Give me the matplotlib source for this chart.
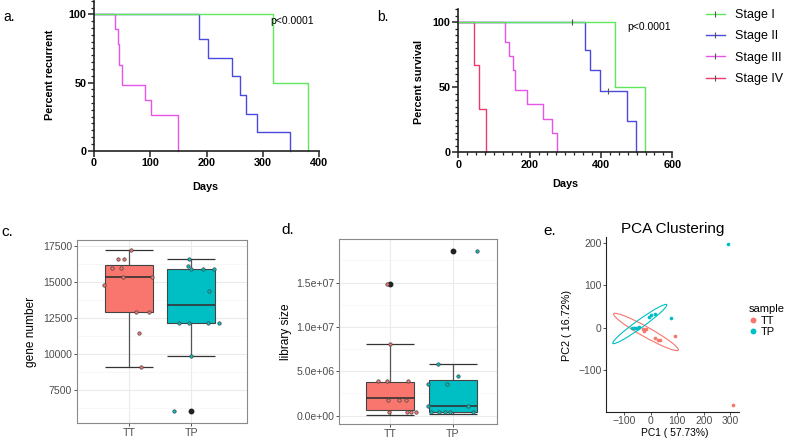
import numpy as np
import matplotlib
matplotlib.use("Agg")
import matplotlib.pyplot as plt
from matplotlib.lines import Line2D
from matplotlib.patches import Ellipse
from matplotlib.ticker import MultipleLocator, FixedLocator
import matplotlib.transforms as mtransforms

plt.rcParams['font.family'] = ['Liberation Sans', 'DejaVu Sans']

W, H = 785, 440

# ---- a. recurrence (days, percent recurrent)
rec_t_s1 = [0, 318, 380]
rec_p_s1 = [100, 50, 0]
rec_t_s2 = [0, 186, 203, 245, 260, 270, 290, 348]
rec_p_s2 = [100, 82, 68, 54.5, 41, 27, 13.6, 0]
rec_t_s3 = [0, 38, 42, 44, 50, 90, 101, 150]
rec_p_s3 = [100, 89, 78, 63, 48, 37, 26, 0]

# ---- b. survival (days, percent survival)
surv_t_s1 = [0, 440, 524]
surv_p_s1 = [100, 50, 0]
surv_t_s2 = [0, 355, 370, 396, 474, 497]
surv_p_s2 = [100, 79, 63, 47.5, 24, 0]
surv_t_s3 = [0, 131, 142, 152, 160, 192, 237, 262, 276]
surv_p_s3 = [100, 85, 74, 63, 48, 37, 26, 15, 0]
surv_t_s4 = [0, 44, 58, 78]
surv_p_s4 = [100, 67, 33, 0]
cens_t_s1, cens_p_s1 = [318], [100]
cens_t_s2, cens_p_s2 = [420], [47.5]

stage_labels = ['Stage I', 'Stage II', 'Stage III', 'Stage IV']
stage_colors = ['#5ee85a', '#4a4ae0', '#e755e7', '#ec3a6c']

# ---- c. gene number
gene_tt = [17222, 16620, 16620, 15949, 15949, 15324, 15324, 14792, 12917, 12917, 11435, 9097]
gene_tt_jit = [0.03, -0.18, -0.08, -0.27, -0.13, -0.09, 0.38, -0.40, 0.11, 0.33, 0.17, 0.19]
gene_tp = [16620, 16111, 15880, 15880, 15880, 14375, 12176, 12176, 12176, 12176, 9884, 6042]
gene_tp_jit = [-0.03, -0.05, 0.0, 0.19, 0.36, 0.29, -0.19, -0.04, 0.27, 0.44, -0.01, -0.28]
gene_box_tt = dict(whislo=9097, q1=12940, med=15324, q3=16204, whishi=17222, fliers=[])
gene_box_tp = dict(whislo=9884, q1=12130, med=13380, q3=15880, whishi=16620, fliers=[6042])

# ---- d. library size
lib_tt = [14.89e6, 8.05e6, 3.91e6, 3.91e6, 3.91e6, 1.77e6, 1.77e6, 1.77e6, 0.38e6, 0.38e6, 0.38e6, 0.38e6]
lib_tt_jit = [-0.05, 0.0, -0.20, -0.05, 0.29, -0.03, 0.15, 0.26, -0.02, 0.27, 0.33, 0.41]
lib_tp = [18.6e6, 5.86e6, 4.47e6, 3.61e6, 3.61e6, 1.13e6, 1.13e6, 0.38e6, 0.38e6, 0.38e6, 0.38e6, 0.38e6]
lib_tp_jit = [0.39, -0.23, 0.08, -0.09, -0.39, -0.39, 0.24, -0.35, -0.22, -0.13, -0.04, 0.33]
lib_box_tt = dict(whislo=0.1e6, q1=0.64e6, med=1.95e6, q3=3.83e6, whishi=8.05e6, fliers=[14.89e6])
lib_box_tp = dict(whislo=0.19e6, q1=0.38e6, med=1.09e6, q3=3.98e6, whishi=5.86e6, fliers=[18.6e6])

# ---- e. PCA
pca_tt_x = [90, 16, 27, 34, -31, -25, -19, 312]
pca_tt_y = [-20, -25, -28, -28, -4, -7, -4, -182]
pca_tp_x = [294, 75, 15, 0, -6, -72, -65, -57, -50, -45]
pca_tp_y = [197, 23, 33, 29, 26, -1, -1, 0, 0.5, 1]
ell_tt_center, ell_tt_major, ell_tt_minor = (-18.5, -10), (122.5, -42.7), (9.1, 10.3)
ell_tp_center, ell_tp_major, ell_tp_minor = (-42, 8.7), (102, 45.6), (-8.8, 7.6)

col_tt = '#F8766D'
col_tp = '#00BFC4'


def box(l, t, r, b):
    return [l / W, 1 - b / H, (r - l) / W, (b - t) / H]


fig = plt.figure(figsize=(W / 100, H / 100), dpi=100)

# ================= a / b : Kaplan-Meier style
def km_axes(ax, xmax, xmaj, xmin_loc):
    for s in ['top', 'right']:
        ax.spines[s].set_visible(False)
    for s in ['left', 'bottom']:
        ax.spines[s].set_linewidth(1.2)
        ax.spines[s].set_color('#222222')
    ax.set_xlim(0, xmax)
    ax.set_ylim(0, 110)
    ax.xaxis.set_major_locator(MultipleLocator(xmaj))
    if xmin_loc:
        ax.xaxis.set_minor_locator(MultipleLocator(xmin_loc))
    ax.set_yticks([0, 50, 100])
    ax.yaxis.set_minor_locator(MultipleLocator(5))
    ax.tick_params(which='major', length=4, width=1.1, labelsize=7.8, pad=1.5, color='#222222')
    ax.tick_params(which='minor', length=2, width=0.9, color='#222222')
    for lab in ax.get_xticklabels() + ax.get_yticklabels():
        lab.set_fontweight('bold')

ax_a = fig.add_axes(box(94, 0.7, 319, 150.7))
ax_a.step(rec_t_s3, rec_p_s3, where='post', color=stage_colors[2], lw=1.0, clip_on=False)
ax_a.step(rec_t_s2, rec_p_s2, where='post', color=stage_colors[1], lw=1.0, clip_on=False)
ax_a.step(rec_t_s1, rec_p_s1, where='post', color=stage_colors[0], lw=1.0, clip_on=False)
km_axes(ax_a, 400, 100, None)
ax_a.text(314, 95, 'p<0.0001', fontsize=7.5, va='center')
ax_a.set_ylabel('Percent recurrent', fontsize=7.8, fontweight='bold')
ax_a.yaxis.set_label_coords(-0.173, 0.505)
ax_a.set_xlabel('Days', fontsize=7.8, fontweight='bold')
ax_a.xaxis.set_label_coords(0.493, -0.21)

ax_b = fig.add_axes(box(458.3, 9.3, 672.3, 152.3))
ax_b.step(surv_t_s4, surv_p_s4, where='post', color=stage_colors[3], lw=1.0, clip_on=False)
ax_b.step(surv_t_s3, surv_p_s3, where='post', color=stage_colors[2], lw=1.0, clip_on=False)
ax_b.step(surv_t_s2, surv_p_s2, where='post', color=stage_colors[1], lw=1.0, clip_on=False)
ax_b.step(surv_t_s1, surv_p_s1, where='post', color=stage_colors[0], lw=1.0, clip_on=False)
ax_b.plot(cens_t_s1, cens_p_s1, ls='', marker='|', ms=4, mew=0.8, color='#555555')
ax_b.plot(cens_t_s2, cens_p_s2, ls='', marker='|', ms=4, mew=0.8, color='#555555')
km_axes(ax_b, 600, 200, 25)
ax_b.text(474, 96.5, 'p<0.0001', fontsize=7.5, va='center')
ax_b.set_ylabel('Percent survival', fontsize=7.8, fontweight='bold')
ax_b.yaxis.set_label_coords(-0.16, 0.494)
ax_b.set_xlabel('Days', fontsize=7.8, fontweight='bold')
ax_b.xaxis.set_label_coords(0.5, -0.187)

handles = [Line2D([], [], color=c, lw=1.0, marker='|', ms=4, mew=0.8, mec='#555555')
           for c in stage_colors]
fig.legend(handles, stage_labels, loc='upper left', bbox_to_anchor=(706 / W, 1 - 9 / H),
           frameon=False, fontsize=9, handlelength=1.5, handletextpad=0.8,
           labelspacing=0.75, borderpad=0, borderaxespad=0)

# ================= c / d : ggplot style boxplots
def gg_box(ax, box_tt, box_tp, tt, tt_jit, tp, tp_jit, xlim, ylim, yticks, yticklabels, ylabel, width):
    ax.set_axisbelow(True)
    for s in ax.spines.values():
        s.set_color('#8a8a8a')
        s.set_linewidth(0.8)
    # errorbar-style whiskers
    for pos, st in zip([1, 2], [box_tt, box_tp]):
        ax.vlines(pos, st['whislo'], st['whishi'], color='#555555', lw=0.9, zorder=1.5)
        ax.hlines([st['whislo'], st['whishi']], pos - width / 2, pos + width / 2,
                  color='#333333', lw=0.9, zorder=1.5)
    bp = ax.bxp([box_tt, box_tp], positions=[1, 2], widths=width, patch_artist=True,
                showcaps=False, whiskerprops=dict(lw=0), manage_ticks=False,
                medianprops=dict(color='#333333', lw=1.2),
                flierprops=dict(marker='o', mfc='#222222', mec='#222222', ms=3.2),
                boxprops=dict(edgecolor='#444444', lw=0.8), zorder=2)
    bp['boxes'][0].set_facecolor(col_tt)
    bp['boxes'][1].set_facecolor(col_tp)
    ax.scatter(1 + np.array(tt_jit), tt, s=6, c=col_tt, edgecolors='#444444', linewidths=0.5, zorder=3)
    ax.scatter(2 + np.array(tp_jit), tp, s=6, c=col_tp, edgecolors='#444444', linewidths=0.5, zorder=3)
    ax.set_xlim(*xlim)
    ax.set_ylim(*ylim)
    ax.yaxis.set_major_locator(FixedLocator(yticks))
    ax.set_yticklabels(yticklabels)
    step = yticks[1] - yticks[0]
    minors = [t - step / 2 for t in yticks] + [yticks[-1] + step / 2]
    ax.yaxis.set_minor_locator(FixedLocator(minors))
    ax.set_xticks([1, 2])
    ax.set_xticklabels(['TT', 'TP'])
    ax.grid(True, which='major', color='#ebebeb', lw=0.8)
    ax.grid(True, which='minor', axis='y', color='#f5f5f5', lw=0.5)
    ax.tick_params(which='major', length=2, width=0.6, color='#333333', labelsize=7.6,
                   labelcolor='#4d4d4d', pad=1.5)
    ax.tick_params(which='minor', length=0)
    ax.set_ylabel(ylabel, fontsize=8.6)

ax_c = fig.add_axes(box(77, 240, 247.3, 423))
gg_box(ax_c, gene_box_tt, gene_box_tp, gene_tt, gene_tt_jit, gene_tp, gene_tp_jit,
       (0.17, 2.9), (5208, 17917), [7500, 10000, 12500, 15000, 17500],
       ['7500', '10000', '12500', '15000', '17500'], 'gene number', 0.77)
ax_c.yaxis.set_label_coords(-0.237, 0.499)

ax_d = fig.add_axes(box(339.3, 239.3, 497.3, 424))
gg_box(ax_d, lib_box_tt, lib_box_tp, lib_tt, lib_tt_jit, lib_tp, lib_tp_jit,
       (0.19, 2.71), (-0.94e6, 19.89e6), [0, 5e6, 10e6, 15e6],
       ['0.0e+00', '5.0e+06', '1.0e+07', '1.5e+07'], 'library size', 0.77)
ax_d.yaxis.set_label_coords(-0.301, 0.498)

# ================= e : PCA
e_bottom = 411.5
ax_e = fig.add_axes(box(606, 236.7, 739.3, e_bottom))
for s in ['top', 'right']:
    ax_e.spines[s].set_visible(False)
for s in ['left', 'bottom']:
    ax_e.spines[s].set_linewidth(0.8)
    ax_e.spines[s].set_color('#222222')
ax_e.set_xlim(-170, 335)
ax_e.set_ylim(-197, 214)
ax_e.set_xticks([-100, 0, 100, 200, 300])
ax_e.set_xticklabels(['\u2212100', '0', '100', '200', '300'])
ax_e.set_yticks([-100, 0, 100, 200])
ax_e.set_yticklabels(['\u2212100', '0', '100', '200'])
ax_e.tick_params(length=2, width=0.6, color='#333333', labelsize=7.5, labelcolor='#4d4d4d', pad=1)
for cen, maj, mnr, col in [(ell_tt_center, ell_tt_major, ell_tt_minor, col_tt),
                           (ell_tp_center, ell_tp_major, ell_tp_minor, col_tp)]:
    tr = mtransforms.Affine2D.from_values(maj[0], maj[1], mnr[0], mnr[1], cen[0], cen[1])
    ax_e.add_patch(Ellipse((0, 0), 2, 2, fill=False, ec=col, lw=0.8, transform=tr + ax_e.transData))
ax_e.scatter(pca_tt_x, pca_tt_y, s=7, c=col_tt, lw=0, zorder=3)
ax_e.scatter(pca_tp_x, pca_tp_y, s=7, c=col_tp, lw=0, zorder=3)
ax_e.set_title('PCA Clustering', fontsize=11, pad=3)
ax_e.set_xlabel('PC1 ( 57.73%)', fontsize=7.4)
ax_e.xaxis.set_label_coords(0.518, (e_bottom - 427.5) / (e_bottom - 236.7))
ax_e.set_ylabel('PC2 ( 16.72%)', fontsize=7.8)
ax_e.yaxis.set_label_coords(-0.257, 0.49)
hs = [Line2D([], [], ls='', marker='o', ms=3.2, color=c) for c in [col_tt, col_tp]]
leg = fig.legend(hs, ['TT', 'TP'], title='sample', loc='upper left',
                 bbox_to_anchor=(749 / W, 1 - 304 / H), frameon=False, fontsize=8,
                 title_fontsize=8, handlelength=0.7, handletextpad=0.4,
                 labelspacing=0.15, borderpad=0, borderaxespad=0, alignment='left')

# panel letters
for lx, ly, txt, fs in [(3, 17, 'a.', 10), (377, 17, 'b.', 10), (1, 232, 'c.', 11),
                        (281, 230, 'd.', 11), (543, 231, 'e.', 11)]:
    fig.text(lx / W, 1 - ly / H, txt, fontsize=fs, va='center', ha='left')

fig.savefig('out.png', dpi=100)
